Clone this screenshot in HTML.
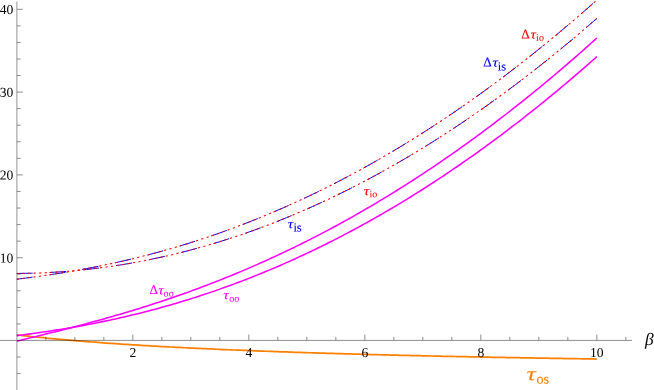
<!DOCTYPE html>
<html><head><meta charset="utf-8">
<style>
html,body{margin:0;padding:0;background:#fff;}
body{width:654px;height:390px;overflow:hidden;}
svg{display:block;font-family:"Liberation Serif",serif;text-rendering:geometricPrecision;will-change:transform;}
.tk line{stroke:#707070;stroke-width:0.8;}
.ax{stroke:#888;stroke-width:1;}
.lab{font-size:13.6px;fill:#000;}
.c{fill:none;}
.i{font-style:italic;}
.cl text{stroke-width:0.3;paint-order:stroke;}
</style></head><body>
<svg width="654" height="390" viewBox="0 0 654 390">
<rect width="654" height="390" fill="#fff"/>
<path class="c" d="M16.85,334.92 L19.75,335.25 L22.65,335.58 L25.55,335.90 L28.45,336.22 L31.35,336.53 L34.25,336.83 L37.15,337.13 L40.05,337.43 L42.95,337.72 L45.85,338.00 L48.75,338.28 L51.65,338.56 L54.55,338.83 L57.45,339.10 L60.35,339.36 L63.25,339.62 L66.15,339.87 L69.05,340.13 L71.95,340.37 L74.85,340.62 L77.75,340.86 L80.65,341.09 L83.55,341.33 L86.45,341.55 L89.35,341.78 L92.25,342.00 L95.15,342.22 L98.05,342.44 L100.95,342.65 L103.85,342.86 L106.75,343.07 L109.65,343.27 L112.55,343.48 L115.45,343.68 L118.35,343.87 L121.25,344.06 L124.15,344.26 L127.05,344.44 L129.95,344.63 L132.85,344.81 L135.75,344.99 L138.65,345.17 L141.55,345.35 L144.45,345.52 L147.35,345.70 L150.25,345.87 L153.15,346.03 L156.05,346.20 L158.95,346.36 L161.85,346.52 L164.75,346.68 L167.65,346.84 L170.55,347.00 L173.45,347.15 L176.35,347.30 L179.25,347.45 L182.15,347.60 L185.05,347.75 L187.95,347.89 L190.85,348.03 L193.75,348.18 L196.65,348.32 L199.55,348.45 L202.45,348.59 L205.35,348.73 L208.25,348.86 L211.15,348.99 L214.05,349.12 L216.95,349.25 L219.85,349.38 L222.75,349.51 L225.65,349.63 L228.55,349.75 L231.45,349.88 L234.35,350.00 L237.25,350.12 L240.15,350.24 L243.05,350.35 L245.95,350.47 L248.85,350.58 L251.75,350.70 L254.65,350.81 L257.55,350.92 L260.45,351.03 L263.35,351.14 L266.25,351.25 L269.15,351.35 L272.05,351.46 L274.95,351.57 L277.85,351.67 L280.75,351.77 L283.65,351.87 L286.55,351.97 L289.45,352.07 L292.35,352.17 L295.25,352.27 L298.15,352.37 L301.05,352.46 L303.95,352.56 L306.85,352.65 L309.75,352.75 L312.65,352.84 L315.55,352.93 L318.45,353.02 L321.35,353.11 L324.25,353.20 L327.15,353.29 L330.05,353.37 L332.95,353.46 L335.85,353.55 L338.75,353.63 L341.65,353.72 L344.55,353.80 L347.45,353.88 L350.35,353.96 L353.25,354.05 L356.15,354.13 L359.05,354.21 L361.95,354.29 L364.85,354.36 L367.75,354.44 L370.65,354.52 L373.55,354.60 L376.45,354.67 L379.35,354.75 L382.25,354.82 L385.15,354.90 L388.05,354.97 L390.95,355.04 L393.85,355.11 L396.75,355.19 L399.65,355.26 L402.55,355.33 L405.45,355.40 L408.35,355.47 L411.25,355.53 L414.15,355.60 L417.05,355.67 L419.95,355.74 L422.85,355.80 L425.75,355.87 L428.65,355.94 L431.55,356.00 L434.45,356.06 L437.35,356.13 L440.25,356.19 L443.15,356.26 L446.05,356.32 L448.95,356.38 L451.85,356.44 L454.75,356.50 L457.65,356.56 L460.55,356.62 L463.45,356.68 L466.35,356.74 L469.25,356.80 L472.15,356.86 L475.05,356.92 L477.95,356.97 L480.85,357.03 L483.75,357.09 L486.65,357.14 L489.55,357.20 L492.45,357.26 L495.35,357.31 L498.25,357.37 L501.15,357.42 L504.05,357.47 L506.95,357.53 L509.85,357.58 L512.75,357.63 L515.65,357.69 L518.55,357.74 L521.45,357.79 L524.35,357.84 L527.25,357.89 L530.15,357.94 L533.05,357.99 L535.95,358.04 L538.85,358.09 L541.75,358.14 L544.65,358.19 L547.55,358.24 L550.45,358.29 L553.35,358.33 L556.25,358.38 L559.15,358.43 L562.05,358.48 L564.95,358.52 L567.85,358.57 L570.75,358.61 L573.65,358.66 L576.55,358.71 L579.45,358.75 L582.35,358.80 L585.25,358.84 L588.15,358.88 L591.05,358.93 L593.95,358.97 L596.85,359.02" stroke="#ff8000" stroke-width="1.75"/>
<path class="c" d="M16.85,335.64 L19.75,335.27 L22.65,334.90 L25.55,334.51 L28.45,334.13 L31.35,333.73 L34.25,333.33 L37.15,332.93 L40.05,332.51 L42.95,332.09 L45.85,331.66 L48.75,331.23 L51.65,330.78 L54.55,330.33 L57.45,329.87 L60.35,329.41 L63.25,328.93 L66.15,328.45 L69.05,327.96 L71.95,327.46 L74.85,326.95 L77.75,326.43 L80.65,325.91 L83.55,325.37 L86.45,324.83 L89.35,324.28 L92.25,323.72 L95.15,323.15 L98.05,322.57 L100.95,321.98 L103.85,321.38 L106.75,320.77 L109.65,320.15 L112.55,319.53 L115.45,318.89 L118.35,318.25 L121.25,317.59 L124.15,316.92 L127.05,316.25 L129.95,315.56 L132.85,314.87 L135.75,314.16 L138.65,313.45 L141.55,312.72 L144.45,311.98 L147.35,311.24 L150.25,310.48 L153.15,309.71 L156.05,308.94 L158.95,308.15 L161.85,307.35 L164.75,306.54 L167.65,305.72 L170.55,304.89 L173.45,304.05 L176.35,303.20 L179.25,302.34 L182.15,301.47 L185.05,300.58 L187.95,299.69 L190.85,298.78 L193.75,297.87 L196.65,296.94 L199.55,296.00 L202.45,295.05 L205.35,294.09 L208.25,293.12 L211.15,292.14 L214.05,291.15 L216.95,290.14 L219.85,289.13 L222.75,288.10 L225.65,287.06 L228.55,286.01 L231.45,284.95 L234.35,283.88 L237.25,282.80 L240.15,281.70 L243.05,280.60 L245.95,279.48 L248.85,278.35 L251.75,277.21 L254.65,276.06 L257.55,274.90 L260.45,273.72 L263.35,272.54 L266.25,271.34 L269.15,270.13 L272.05,268.91 L274.95,267.68 L277.85,266.44 L280.75,265.18 L283.65,263.91 L286.55,262.64 L289.45,261.35 L292.35,260.05 L295.25,258.73 L298.15,257.41 L301.05,256.07 L303.95,254.72 L306.85,253.36 L309.75,251.99 L312.65,250.61 L315.55,249.21 L318.45,247.81 L321.35,246.39 L324.25,244.96 L327.15,243.51 L330.05,242.06 L332.95,240.59 L335.85,239.12 L338.75,237.63 L341.65,236.13 L344.55,234.61 L347.45,233.09 L350.35,231.55 L353.25,230.00 L356.15,228.44 L359.05,226.87 L361.95,225.28 L364.85,223.69 L367.75,222.08 L370.65,220.46 L373.55,218.82 L376.45,217.18 L379.35,215.52 L382.25,213.85 L385.15,212.17 L388.05,210.48 L390.95,208.78 L393.85,207.06 L396.75,205.33 L399.65,203.59 L402.55,201.84 L405.45,200.07 L408.35,198.30 L411.25,196.51 L414.15,194.71 L417.05,192.89 L419.95,191.07 L422.85,189.23 L425.75,187.38 L428.65,185.52 L431.55,183.65 L434.45,181.76 L437.35,179.86 L440.25,177.95 L443.15,176.03 L446.05,174.10 L448.95,172.15 L451.85,170.19 L454.75,168.22 L457.65,166.24 L460.55,164.24 L463.45,162.23 L466.35,160.21 L469.25,158.18 L472.15,156.14 L475.05,154.08 L477.95,152.01 L480.85,149.93 L483.75,147.84 L486.65,145.74 L489.55,143.62 L492.45,141.49 L495.35,139.35 L498.25,137.19 L501.15,135.03 L504.05,132.85 L506.95,130.66 L509.85,128.46 L512.75,126.24 L515.65,124.01 L518.55,121.77 L521.45,119.52 L524.35,117.26 L527.25,114.98 L530.15,112.69 L533.05,110.39 L535.95,108.08 L538.85,105.75 L541.75,103.41 L544.65,101.06 L547.55,98.70 L550.45,96.33 L553.35,93.94 L556.25,91.54 L559.15,89.13 L562.05,86.70 L564.95,84.27 L567.85,81.82 L570.75,79.36 L573.65,76.88 L576.55,74.40 L579.45,71.90 L582.35,69.39 L585.25,66.87 L588.15,64.33 L591.05,61.78 L593.95,59.22 L596.85,56.65" stroke="#ff00ff" stroke-width="1.55"/>
<path class="c" d="M16.85,341.10 L19.75,340.39 L22.65,339.69 L25.55,338.99 L28.45,338.29 L31.35,337.58 L34.25,336.88 L37.15,336.17 L40.05,335.46 L42.95,334.75 L45.85,334.04 L48.75,333.32 L51.65,332.60 L54.55,331.88 L57.45,331.15 L60.35,330.42 L63.25,329.69 L66.15,328.95 L69.05,328.21 L71.95,327.46 L74.85,326.71 L77.75,325.95 L80.65,325.19 L83.55,324.42 L86.45,323.65 L89.35,322.87 L92.25,322.09 L95.15,321.30 L98.05,320.50 L100.95,319.70 L103.85,318.89 L106.75,318.08 L109.65,317.26 L112.55,316.43 L115.45,315.59 L118.35,314.75 L121.25,313.90 L124.15,313.04 L127.05,312.18 L129.95,311.31 L132.85,310.43 L135.75,309.54 L138.65,308.65 L141.55,307.75 L144.45,306.84 L147.35,305.92 L150.25,304.99 L153.15,304.06 L156.05,303.11 L158.95,302.16 L161.85,301.20 L164.75,300.24 L167.65,299.26 L170.55,298.27 L173.45,297.28 L176.35,296.28 L179.25,295.26 L182.15,294.24 L185.05,293.21 L187.95,292.17 L190.85,291.12 L193.75,290.07 L196.65,289.00 L199.55,287.92 L202.45,286.84 L205.35,285.74 L208.25,284.64 L211.15,283.52 L214.05,282.40 L216.95,281.27 L219.85,280.12 L222.75,278.97 L225.65,277.81 L228.55,276.63 L231.45,275.45 L234.35,274.26 L237.25,273.06 L240.15,271.84 L243.05,270.62 L245.95,269.39 L248.85,268.14 L251.75,266.89 L254.65,265.63 L257.55,264.35 L260.45,263.07 L263.35,261.77 L266.25,260.47 L269.15,259.15 L272.05,257.83 L274.95,256.49 L277.85,255.14 L280.75,253.79 L283.65,252.42 L286.55,251.04 L289.45,249.65 L292.35,248.25 L295.25,246.84 L298.15,245.42 L301.05,243.98 L303.95,242.54 L306.85,241.09 L309.75,239.62 L312.65,238.15 L315.55,236.66 L318.45,235.16 L321.35,233.65 L324.25,232.13 L327.15,230.60 L330.05,229.06 L332.95,227.51 L335.85,225.95 L338.75,224.37 L341.65,222.79 L344.55,221.19 L347.45,219.58 L350.35,217.96 L353.25,216.33 L356.15,214.69 L359.05,213.04 L361.95,211.37 L364.85,209.70 L367.75,208.01 L370.65,206.31 L373.55,204.60 L376.45,202.88 L379.35,201.15 L382.25,199.41 L385.15,197.65 L388.05,195.89 L390.95,194.11 L393.85,192.32 L396.75,190.52 L399.65,188.71 L402.55,186.89 L405.45,185.05 L408.35,183.21 L411.25,181.35 L414.15,179.48 L417.05,177.60 L419.95,175.71 L422.85,173.80 L425.75,171.89 L428.65,169.96 L431.55,168.02 L434.45,166.07 L437.35,164.11 L440.25,162.14 L443.15,160.15 L446.05,158.15 L448.95,156.14 L451.85,154.12 L454.75,152.09 L457.65,150.05 L460.55,147.99 L463.45,145.93 L466.35,143.85 L469.25,141.76 L472.15,139.66 L475.05,137.54 L477.95,135.42 L480.85,133.28 L483.75,131.13 L486.65,128.97 L489.55,126.79 L492.45,124.61 L495.35,122.41 L498.25,120.20 L501.15,117.98 L504.05,115.75 L506.95,113.51 L509.85,111.25 L512.75,108.98 L515.65,106.70 L518.55,104.41 L521.45,102.11 L524.35,99.79 L527.25,97.46 L530.15,95.13 L533.05,92.77 L535.95,90.41 L538.85,88.04 L541.75,85.65 L544.65,83.25 L547.55,80.84 L550.45,78.41 L553.35,75.98 L556.25,73.53 L559.15,71.07 L562.05,68.60 L564.95,66.12 L567.85,63.62 L570.75,61.12 L573.65,58.60 L576.55,56.07 L579.45,53.52 L582.35,50.97 L585.25,48.40 L588.15,45.82 L591.05,43.23 L593.95,40.63 L596.85,38.01" stroke="#ff00ff" stroke-width="1.55"/>
<path class="c" d="M16.85,273.43 L19.75,273.41 L22.65,273.38 L25.55,273.34 L28.45,273.28 L31.35,273.21 L34.25,273.13 L37.15,273.04 L40.05,272.93 L42.95,272.81 L45.85,272.68 L48.75,272.53 L51.65,272.37 L54.55,272.20 L57.45,272.02 L60.35,271.83 L63.25,271.62 L66.15,271.40 L69.05,271.16 L71.95,270.92 L74.85,270.66 L77.75,270.39 L80.65,270.10 L83.55,269.81 L86.45,269.50 L89.35,269.18 L92.25,268.84 L95.15,268.49 L98.05,268.13 L100.95,267.76 L103.85,267.38 L106.75,266.98 L109.65,266.57 L112.55,266.15 L115.45,265.71 L118.35,265.26 L121.25,264.80 L124.15,264.33 L127.05,263.84 L129.95,263.34 L132.85,262.83 L135.75,262.31 L138.65,261.77 L141.55,261.22 L144.45,260.66 L147.35,260.09 L150.25,259.50 L153.15,258.90 L156.05,258.29 L158.95,257.66 L161.85,257.03 L164.75,256.38 L167.65,255.71 L170.55,255.04 L173.45,254.35 L176.35,253.65 L179.25,252.94 L182.15,252.21 L185.05,251.47 L187.95,250.72 L190.85,249.96 L193.75,249.18 L196.65,248.39 L199.55,247.59 L202.45,246.78 L205.35,245.95 L208.25,245.11 L211.15,244.26 L214.05,243.39 L216.95,242.52 L219.85,241.63 L222.75,240.72 L225.65,239.81 L228.55,238.88 L231.45,237.94 L234.35,236.99 L237.25,236.02 L240.15,235.04 L243.05,234.05 L245.95,233.05 L248.85,232.03 L251.75,231.00 L254.65,229.96 L257.55,228.91 L260.45,227.84 L263.35,226.76 L266.25,225.67 L269.15,224.56 L272.05,223.45 L274.95,222.32 L277.85,221.17 L280.75,220.02 L283.65,218.85 L286.55,217.67 L289.45,216.48 L292.35,215.27 L295.25,214.05 L298.15,212.82 L301.05,211.58 L303.95,210.32 L306.85,209.06 L309.75,207.77 L312.65,206.48 L315.55,205.17 L318.45,203.85 L321.35,202.52 L324.25,201.18 L327.15,199.82 L330.05,198.45 L332.95,197.07 L335.85,195.67 L338.75,194.26 L341.65,192.84 L344.55,191.41 L347.45,189.97 L350.35,188.51 L353.25,187.04 L356.15,185.55 L359.05,184.06 L361.95,182.55 L364.85,181.03 L367.75,179.49 L370.65,177.95 L373.55,176.39 L376.45,174.82 L379.35,173.23 L382.25,171.63 L385.15,170.02 L388.05,168.40 L390.95,166.77 L393.85,165.12 L396.75,163.46 L399.65,161.79 L402.55,160.10 L405.45,158.40 L408.35,156.69 L411.25,154.97 L414.15,153.23 L417.05,151.48 L419.95,149.72 L422.85,147.95 L425.75,146.16 L428.65,144.36 L431.55,142.55 L434.45,140.73 L437.35,138.89 L440.25,137.04 L443.15,135.18 L446.05,133.30 L448.95,131.42 L451.85,129.52 L454.75,127.60 L457.65,125.68 L460.55,123.74 L463.45,121.79 L466.35,119.83 L469.25,117.85 L472.15,115.86 L475.05,113.86 L477.95,111.85 L480.85,109.82 L483.75,107.78 L486.65,105.73 L489.55,103.66 L492.45,101.59 L495.35,99.50 L498.25,97.40 L501.15,95.28 L504.05,93.15 L506.95,91.01 L509.85,88.86 L512.75,86.70 L515.65,84.52 L518.55,82.33 L521.45,80.12 L524.35,77.91 L527.25,75.68 L530.15,73.44 L533.05,71.18 L535.95,68.92 L538.85,66.64 L541.75,64.35 L544.65,62.04 L547.55,59.73 L550.45,57.40 L553.35,55.05 L556.25,52.70 L559.15,50.33 L562.05,47.95 L564.95,45.56 L567.85,43.15 L570.75,40.74 L573.65,38.31 L576.55,35.86 L579.45,33.41 L582.35,30.94 L585.25,28.46 L588.15,25.96 L591.05,23.46 L593.95,20.94 L596.85,18.41" stroke="#0000ff" stroke-width="1" stroke-dasharray="16.4 16.96" stroke-dashoffset="0.6"/>
<path class="c" d="M16.85,279.18 L19.75,278.83 L22.65,278.47 L25.55,278.10 L28.45,277.73 L31.35,277.35 L34.25,276.96 L37.15,276.57 L40.05,276.17 L42.95,275.76 L45.85,275.34 L48.75,274.92 L51.65,274.48 L54.55,274.04 L57.45,273.59 L60.35,273.13 L63.25,272.66 L66.15,272.19 L69.05,271.70 L71.95,271.21 L74.85,270.71 L77.75,270.20 L80.65,269.68 L83.55,269.15 L86.45,268.61 L89.35,268.06 L92.25,267.50 L95.15,266.94 L98.05,266.36 L100.95,265.78 L103.85,265.18 L106.75,264.58 L109.65,263.96 L112.55,263.34 L115.45,262.70 L118.35,262.06 L121.25,261.40 L124.15,260.74 L127.05,260.06 L129.95,259.38 L132.85,258.69 L135.75,257.98 L138.65,257.27 L141.55,256.54 L144.45,255.80 L147.35,255.06 L150.25,254.30 L153.15,253.53 L156.05,252.76 L158.95,251.97 L161.85,251.17 L164.75,250.36 L167.65,249.54 L170.55,248.71 L173.45,247.87 L176.35,247.01 L179.25,246.15 L182.15,245.28 L185.05,244.39 L187.95,243.50 L190.85,242.59 L193.75,241.67 L196.65,240.74 L199.55,239.80 L202.45,238.85 L205.35,237.89 L208.25,236.92 L211.15,235.93 L214.05,234.94 L216.95,233.93 L219.85,232.91 L222.75,231.88 L225.65,230.84 L228.55,229.79 L231.45,228.73 L234.35,227.66 L237.25,226.57 L240.15,225.47 L243.05,224.36 L245.95,223.24 L248.85,222.11 L251.75,220.97 L254.65,219.82 L257.55,218.65 L260.45,217.48 L263.35,216.29 L266.25,215.09 L269.15,213.88 L272.05,212.65 L274.95,211.42 L277.85,210.17 L280.75,208.91 L283.65,207.64 L286.55,206.36 L289.45,205.07 L292.35,203.77 L295.25,202.45 L298.15,201.12 L301.05,199.78 L303.95,198.43 L306.85,197.07 L309.75,195.69 L312.65,194.31 L315.55,192.91 L318.45,191.50 L321.35,190.08 L324.25,188.64 L327.15,187.20 L330.05,185.74 L332.95,184.27 L335.85,182.79 L338.75,181.30 L341.65,179.79 L344.55,178.28 L347.45,176.75 L350.35,175.21 L353.25,173.66 L356.15,172.09 L359.05,170.52 L361.95,168.93 L364.85,167.33 L367.75,165.72 L370.65,164.09 L373.55,162.46 L376.45,160.81 L379.35,159.15 L382.25,157.48 L385.15,155.79 L388.05,154.10 L390.95,152.39 L393.85,150.67 L396.75,148.94 L399.65,147.20 L402.55,145.44 L405.45,143.67 L408.35,141.89 L411.25,140.10 L414.15,138.30 L417.05,136.48 L419.95,134.65 L422.85,132.81 L425.75,130.96 L428.65,129.09 L431.55,127.22 L434.45,125.33 L437.35,123.43 L440.25,121.51 L443.15,119.59 L446.05,117.65 L448.95,115.70 L451.85,113.74 L454.75,111.77 L457.65,109.78 L460.55,107.78 L463.45,105.77 L466.35,103.75 L469.25,101.71 L472.15,99.67 L475.05,97.61 L477.95,95.54 L480.85,93.45 L483.75,91.36 L486.65,89.25 L489.55,87.13 L492.45,85.00 L495.35,82.85 L498.25,80.70 L501.15,78.53 L504.05,76.34 L506.95,74.15 L509.85,71.95 L512.75,69.73 L515.65,67.50 L518.55,65.25 L521.45,63.00 L524.35,60.73 L527.25,58.45 L530.15,56.16 L533.05,53.86 L535.95,51.54 L538.85,49.21 L541.75,46.87 L544.65,44.52 L547.55,42.15 L550.45,39.78 L553.35,37.39 L556.25,34.98 L559.15,32.57 L562.05,30.14 L564.95,27.70 L567.85,25.25 L570.75,22.79 L573.65,20.31 L576.55,17.82 L579.45,15.32 L582.35,12.81 L585.25,10.28 L588.15,7.75 L591.05,5.20 L593.95,2.63 L596.85,0.06" stroke="#0000ff" stroke-width="1" stroke-dasharray="16.4 16.96" stroke-dashoffset="0.6"/>
<path class="c" d="M16.85,273.43 L19.75,273.41 L22.65,273.38 L25.55,273.34 L28.45,273.28 L31.35,273.21 L34.25,273.13 L37.15,273.04 L40.05,272.93 L42.95,272.81 L45.85,272.68 L48.75,272.53 L51.65,272.37 L54.55,272.20 L57.45,272.02 L60.35,271.83 L63.25,271.62 L66.15,271.40 L69.05,271.16 L71.95,270.92 L74.85,270.66 L77.75,270.39 L80.65,270.10 L83.55,269.81 L86.45,269.50 L89.35,269.18 L92.25,268.84 L95.15,268.49 L98.05,268.13 L100.95,267.76 L103.85,267.38 L106.75,266.98 L109.65,266.57 L112.55,266.15 L115.45,265.71 L118.35,265.26 L121.25,264.80 L124.15,264.33 L127.05,263.84 L129.95,263.34 L132.85,262.83 L135.75,262.31 L138.65,261.77 L141.55,261.22 L144.45,260.66 L147.35,260.09 L150.25,259.50 L153.15,258.90 L156.05,258.29 L158.95,257.66 L161.85,257.03 L164.75,256.38 L167.65,255.71 L170.55,255.04 L173.45,254.35 L176.35,253.65 L179.25,252.94 L182.15,252.21 L185.05,251.47 L187.95,250.72 L190.85,249.96 L193.75,249.18 L196.65,248.39 L199.55,247.59 L202.45,246.78 L205.35,245.95 L208.25,245.11 L211.15,244.26 L214.05,243.39 L216.95,242.52 L219.85,241.63 L222.75,240.72 L225.65,239.81 L228.55,238.88 L231.45,237.94 L234.35,236.99 L237.25,236.02 L240.15,235.04 L243.05,234.05 L245.95,233.05 L248.85,232.03 L251.75,231.00 L254.65,229.96 L257.55,228.91 L260.45,227.84 L263.35,226.76 L266.25,225.67 L269.15,224.56 L272.05,223.45 L274.95,222.32 L277.85,221.17 L280.75,220.02 L283.65,218.85 L286.55,217.67 L289.45,216.48 L292.35,215.27 L295.25,214.05 L298.15,212.82 L301.05,211.58 L303.95,210.32 L306.85,209.06 L309.75,207.77 L312.65,206.48 L315.55,205.17 L318.45,203.85 L321.35,202.52 L324.25,201.18 L327.15,199.82 L330.05,198.45 L332.95,197.07 L335.85,195.67 L338.75,194.26 L341.65,192.84 L344.55,191.41 L347.45,189.97 L350.35,188.51 L353.25,187.04 L356.15,185.55 L359.05,184.06 L361.95,182.55 L364.85,181.03 L367.75,179.49 L370.65,177.95 L373.55,176.39 L376.45,174.82 L379.35,173.23 L382.25,171.63 L385.15,170.02 L388.05,168.40 L390.95,166.77 L393.85,165.12 L396.75,163.46 L399.65,161.79 L402.55,160.10 L405.45,158.40 L408.35,156.69 L411.25,154.97 L414.15,153.23 L417.05,151.48 L419.95,149.72 L422.85,147.95 L425.75,146.16 L428.65,144.36 L431.55,142.55 L434.45,140.73 L437.35,138.89 L440.25,137.04 L443.15,135.18 L446.05,133.30 L448.95,131.42 L451.85,129.52 L454.75,127.60 L457.65,125.68 L460.55,123.74 L463.45,121.79 L466.35,119.83 L469.25,117.85 L472.15,115.86 L475.05,113.86 L477.95,111.85 L480.85,109.82 L483.75,107.78 L486.65,105.73 L489.55,103.66 L492.45,101.59 L495.35,99.50 L498.25,97.40 L501.15,95.28 L504.05,93.15 L506.95,91.01 L509.85,88.86 L512.75,86.70 L515.65,84.52 L518.55,82.33 L521.45,80.12 L524.35,77.91 L527.25,75.68 L530.15,73.44 L533.05,71.18 L535.95,68.92 L538.85,66.64 L541.75,64.35 L544.65,62.04 L547.55,59.73 L550.45,57.40 L553.35,55.05 L556.25,52.70 L559.15,50.33 L562.05,47.95 L564.95,45.56 L567.85,43.15 L570.75,40.74 L573.65,38.31 L576.55,35.86 L579.45,33.41 L582.35,30.94 L585.25,28.46 L588.15,25.96 L591.05,23.46 L593.95,20.94 L596.85,18.41" stroke="#ff0000" stroke-width="1.05" stroke-dasharray="2.2 3.36" stroke-dashoffset="0"/>
<path class="c" d="M16.85,279.18 L19.75,278.83 L22.65,278.47 L25.55,278.10 L28.45,277.73 L31.35,277.35 L34.25,276.96 L37.15,276.57 L40.05,276.17 L42.95,275.76 L45.85,275.34 L48.75,274.92 L51.65,274.48 L54.55,274.04 L57.45,273.59 L60.35,273.13 L63.25,272.66 L66.15,272.19 L69.05,271.70 L71.95,271.21 L74.85,270.71 L77.75,270.20 L80.65,269.68 L83.55,269.15 L86.45,268.61 L89.35,268.06 L92.25,267.50 L95.15,266.94 L98.05,266.36 L100.95,265.78 L103.85,265.18 L106.75,264.58 L109.65,263.96 L112.55,263.34 L115.45,262.70 L118.35,262.06 L121.25,261.40 L124.15,260.74 L127.05,260.06 L129.95,259.38 L132.85,258.69 L135.75,257.98 L138.65,257.27 L141.55,256.54 L144.45,255.80 L147.35,255.06 L150.25,254.30 L153.15,253.53 L156.05,252.76 L158.95,251.97 L161.85,251.17 L164.75,250.36 L167.65,249.54 L170.55,248.71 L173.45,247.87 L176.35,247.01 L179.25,246.15 L182.15,245.28 L185.05,244.39 L187.95,243.50 L190.85,242.59 L193.75,241.67 L196.65,240.74 L199.55,239.80 L202.45,238.85 L205.35,237.89 L208.25,236.92 L211.15,235.93 L214.05,234.94 L216.95,233.93 L219.85,232.91 L222.75,231.88 L225.65,230.84 L228.55,229.79 L231.45,228.73 L234.35,227.66 L237.25,226.57 L240.15,225.47 L243.05,224.36 L245.95,223.24 L248.85,222.11 L251.75,220.97 L254.65,219.82 L257.55,218.65 L260.45,217.48 L263.35,216.29 L266.25,215.09 L269.15,213.88 L272.05,212.65 L274.95,211.42 L277.85,210.17 L280.75,208.91 L283.65,207.64 L286.55,206.36 L289.45,205.07 L292.35,203.77 L295.25,202.45 L298.15,201.12 L301.05,199.78 L303.95,198.43 L306.85,197.07 L309.75,195.69 L312.65,194.31 L315.55,192.91 L318.45,191.50 L321.35,190.08 L324.25,188.64 L327.15,187.20 L330.05,185.74 L332.95,184.27 L335.85,182.79 L338.75,181.30 L341.65,179.79 L344.55,178.28 L347.45,176.75 L350.35,175.21 L353.25,173.66 L356.15,172.09 L359.05,170.52 L361.95,168.93 L364.85,167.33 L367.75,165.72 L370.65,164.09 L373.55,162.46 L376.45,160.81 L379.35,159.15 L382.25,157.48 L385.15,155.79 L388.05,154.10 L390.95,152.39 L393.85,150.67 L396.75,148.94 L399.65,147.20 L402.55,145.44 L405.45,143.67 L408.35,141.89 L411.25,140.10 L414.15,138.30 L417.05,136.48 L419.95,134.65 L422.85,132.81 L425.75,130.96 L428.65,129.09 L431.55,127.22 L434.45,125.33 L437.35,123.43 L440.25,121.51 L443.15,119.59 L446.05,117.65 L448.95,115.70 L451.85,113.74 L454.75,111.77 L457.65,109.78 L460.55,107.78 L463.45,105.77 L466.35,103.75 L469.25,101.71 L472.15,99.67 L475.05,97.61 L477.95,95.54 L480.85,93.45 L483.75,91.36 L486.65,89.25 L489.55,87.13 L492.45,85.00 L495.35,82.85 L498.25,80.70 L501.15,78.53 L504.05,76.34 L506.95,74.15 L509.85,71.95 L512.75,69.73 L515.65,67.50 L518.55,65.25 L521.45,63.00 L524.35,60.73 L527.25,58.45 L530.15,56.16 L533.05,53.86 L535.95,51.54 L538.85,49.21 L541.75,46.87 L544.65,44.52 L547.55,42.15 L550.45,39.78 L553.35,37.39 L556.25,34.98 L559.15,32.57 L562.05,30.14 L564.95,27.70 L567.85,25.25 L570.75,22.79 L573.65,20.31 L576.55,17.82 L579.45,15.32 L582.35,12.81 L585.25,10.28 L588.15,7.75 L591.05,5.20 L593.95,2.63 L596.85,0.06" stroke="#ff0000" stroke-width="1.05" stroke-dasharray="2.2 3.36" stroke-dashoffset="0"/>

<g style="mix-blend-mode:multiply">
<line class="ax" x1="16.9" y1="1.6" x2="16.9" y2="390" style="stroke-width:0.9"/>
<line class="ax" x1="0" y1="340.4" x2="632" y2="340.4" style="stroke-width:0.95"/>
<g class="tk">
<line x1="45.85" y1="340.50" x2="45.85" y2="336.90"/>
<line x1="74.85" y1="340.50" x2="74.85" y2="336.90"/>
<line x1="103.85" y1="340.50" x2="103.85" y2="336.90"/>
<line x1="132.85" y1="340.50" x2="132.85" y2="334.60"/>
<line x1="161.85" y1="340.50" x2="161.85" y2="336.90"/>
<line x1="190.85" y1="340.50" x2="190.85" y2="336.90"/>
<line x1="219.85" y1="340.50" x2="219.85" y2="336.90"/>
<line x1="248.85" y1="340.50" x2="248.85" y2="334.60"/>
<line x1="277.85" y1="340.50" x2="277.85" y2="336.90"/>
<line x1="306.85" y1="340.50" x2="306.85" y2="336.90"/>
<line x1="335.85" y1="340.50" x2="335.85" y2="336.90"/>
<line x1="364.85" y1="340.50" x2="364.85" y2="334.60"/>
<line x1="393.85" y1="340.50" x2="393.85" y2="336.90"/>
<line x1="422.85" y1="340.50" x2="422.85" y2="336.90"/>
<line x1="451.85" y1="340.50" x2="451.85" y2="336.90"/>
<line x1="480.85" y1="340.50" x2="480.85" y2="334.60"/>
<line x1="509.85" y1="340.50" x2="509.85" y2="336.90"/>
<line x1="538.85" y1="340.50" x2="538.85" y2="336.90"/>
<line x1="567.85" y1="340.50" x2="567.85" y2="336.90"/>
<line x1="596.85" y1="340.50" x2="596.85" y2="334.60"/>
<line x1="625.85" y1="340.50" x2="625.85" y2="336.90"/>
<line x1="16.85" y1="373.62" x2="20.65" y2="373.62"/>
<line x1="16.85" y1="357.06" x2="20.65" y2="357.06"/>
<line x1="16.85" y1="323.94" x2="20.65" y2="323.94"/>
<line x1="16.85" y1="307.38" x2="20.65" y2="307.38"/>
<line x1="16.85" y1="290.82" x2="20.65" y2="290.82"/>
<line x1="16.85" y1="274.26" x2="20.65" y2="274.26"/>
<line x1="16.85" y1="257.70" x2="22.75" y2="257.70"/>
<line x1="16.85" y1="241.14" x2="20.65" y2="241.14"/>
<line x1="16.85" y1="224.58" x2="20.65" y2="224.58"/>
<line x1="16.85" y1="208.02" x2="20.65" y2="208.02"/>
<line x1="16.85" y1="191.46" x2="20.65" y2="191.46"/>
<line x1="16.85" y1="174.90" x2="22.75" y2="174.90"/>
<line x1="16.85" y1="158.34" x2="20.65" y2="158.34"/>
<line x1="16.85" y1="141.78" x2="20.65" y2="141.78"/>
<line x1="16.85" y1="125.22" x2="20.65" y2="125.22"/>
<line x1="16.85" y1="108.66" x2="20.65" y2="108.66"/>
<line x1="16.85" y1="92.10" x2="22.75" y2="92.10"/>
<line x1="16.85" y1="75.54" x2="20.65" y2="75.54"/>
<line x1="16.85" y1="58.98" x2="20.65" y2="58.98"/>
<line x1="16.85" y1="42.42" x2="20.65" y2="42.42"/>
<line x1="16.85" y1="25.86" x2="20.65" y2="25.86"/>
<line x1="16.85" y1="9.30" x2="22.75" y2="9.30"/>
</g>
<g class="lab"><text transform="translate(132.85,357.1) rotate(0.03)" text-anchor="middle">2</text><text transform="translate(248.85,357.1) rotate(0.03)" text-anchor="middle">4</text><text transform="translate(364.85,357.1) rotate(0.03)" text-anchor="middle">6</text><text transform="translate(480.85,357.1) rotate(0.03)" text-anchor="middle">8</text><text transform="translate(596.85,357.1) rotate(0.03)" text-anchor="middle">10</text><text transform="translate(13.3,262.40) rotate(0.03)" text-anchor="end">10</text><text transform="translate(13.3,179.60) rotate(0.03)" text-anchor="end">20</text><text transform="translate(13.3,96.80) rotate(0.03)" text-anchor="end">30</text><text transform="translate(13.3,14.00) rotate(0.03)" text-anchor="end">40</text></g>
</g>
<text transform="translate(521.3,38.5) rotate(0.03)" font-size="13.2" fill="#ff0000" stroke="#ff0000" stroke-width="0.15">Δ</text>
<text transform="translate(530.4,38.6) rotate(0.03) scale(1.2,1)" font-size="12.9" font-style="italic" fill="#ff0000" stroke="#ff0000" stroke-width="0.08">τ</text>
<text transform="translate(536.1,40.8) rotate(0.03)" font-size="10" fill="#ff0000" stroke="#ff0000" stroke-width="0.06">io</text>
<text transform="translate(483.3,66.5) rotate(0.03)" font-size="13.2" fill="#0000ff" stroke="#0000ff" stroke-width="0.15">Δ</text>
<text transform="translate(492.4,66.6) rotate(0.03) scale(1.2,1)" font-size="12.9" font-style="italic" fill="#0000ff" stroke="#0000ff" stroke-width="0.08">τ</text>
<text transform="translate(497.7,70.4) rotate(0.03)" font-size="12.5" fill="#0000ff" stroke="#0000ff" stroke-width="0.12">is</text>
<text transform="translate(363.7,195.0) rotate(0.03) scale(1.2,1)" font-size="12.9" font-style="italic" fill="#ff0000" stroke="#ff0000" stroke-width="0.08">τ</text>
<text transform="translate(369.5,197.3) rotate(0.03)" font-size="10" fill="#ff0000" stroke="#ff0000" stroke-width="0.06">io</text>
<text transform="translate(287.7,228.0) rotate(0.03) scale(1.2,1)" font-size="12.9" font-style="italic" fill="#0000ff" stroke="#0000ff" stroke-width="0.08">τ</text>
<text transform="translate(293.4,231.4) rotate(0.03)" font-size="12.5" fill="#0000ff" stroke="#0000ff" stroke-width="0.12">is</text>
<text transform="translate(149.4,294.0) rotate(0.03)" font-size="13.2" fill="#ff00ff" stroke="#ff00ff" stroke-width="0.15">Δ</text>
<text transform="translate(158.2,294.2) rotate(0.03) scale(1.2,1)" font-size="12.9" font-style="italic" fill="#ff00ff" stroke="#ff00ff" stroke-width="0.08">τ</text>
<text transform="translate(163.6,296.6) rotate(0.03)" font-size="10.1" fill="#ff00ff" stroke="#ff00ff" stroke-width="0.06">oo</text>
<text transform="translate(223.2,299.0) rotate(0.03) scale(1.2,1)" font-size="12.9" font-style="italic" fill="#ff00ff" stroke="#ff00ff" stroke-width="0.08">τ</text>
<text transform="translate(229.3,301.8) rotate(0.03)" font-size="10.1" fill="#ff00ff" stroke="#ff00ff" stroke-width="0.06">oo</text>
<text transform="translate(526.6,380.3) rotate(0.03) scale(1.33,1)" font-size="19.5" font-style="italic" fill="#ff8000" stroke="#ff8000" stroke-width="0.08">τ</text>
<text transform="translate(536.4,383.6) rotate(0.03)" font-size="14.2" fill="#ff8000" stroke="#ff8000" stroke-width="0.12">os</text>
<text transform="translate(645.1,344.9) rotate(0.03)" fill="#000" font-size="17.3" font-style="italic">β</text>
</svg>
</body></html>
